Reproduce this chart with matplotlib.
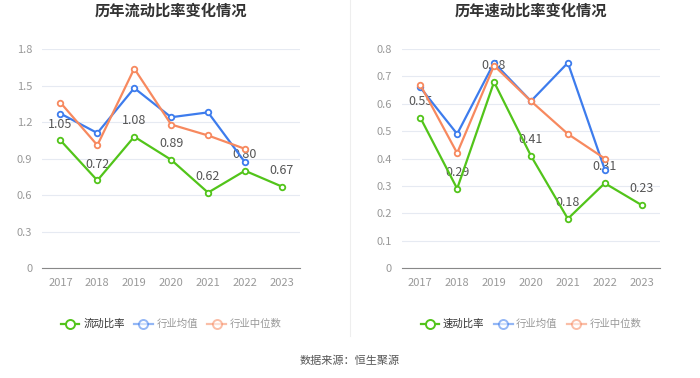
import matplotlib.pyplot as plt
import numpy as np

plt.rcParams['font.family'] = ['Noto Sans CJK SC', 'DejaVu Sans']

years = ["2017", "2018", "2019", "2020", "2021", "2022", "2023"]

current_ratio = [1.05, 0.72, 1.08, 0.89, 0.62, 0.80, 0.67]
current_avg = [1.27, 1.11, 1.48, 1.24, 1.28, 0.87]
current_median = [1.36, 1.01, 1.64, 1.18, 1.09, 0.98]

quick_ratio = [0.55, 0.29, 0.68, 0.41, 0.18, 0.31, 0.23]
quick_avg = [0.66, 0.49, 0.75, 0.61, 0.75, 0.36]
quick_median = [0.67, 0.42, 0.74, 0.61, 0.49, 0.40]

GREEN = "#52c41a"
BLUE = "#3d7ced"
ORANGE = "#f7895f"


def draw(ax, title, main, avg, med, main_name, yticks, ylim):
    x = np.arange(len(years))
    ax.plot(x[:len(avg)], avg, color=BLUE, lw=1.6, marker="o", ms=4,
            mfc="white", mew=1.3, zorder=3)
    ax.plot(x[:len(med)], med, color=ORANGE, lw=1.6, marker="o", ms=4,
            mfc="white", mew=1.3, zorder=3)
    ax.plot(x, main, color=GREEN, lw=1.6, marker="o", ms=4,
            mfc="white", mew=1.3, zorder=4)
    for xi, v in zip(x, main):
        ax.annotate("{:.2f}".format(v), (xi, v), xytext=(0, 7),
                    textcoords="offset points", ha="center", va="bottom",
                    fontsize=9, color="#555555", zorder=2)
    ax.set_xlim(-0.5, len(years) - 0.5)
    ax.set_ylim(*ylim)
    ax.set_yticks(yticks)
    ax.set_yticklabels([("0" if t == 0 else "{:g}".format(t)) for t in yticks])
    ax.set_xticks(x)
    ax.set_xticklabels(years)
    ax.tick_params(axis="both", length=0, labelsize=8, colors="#999999", pad=7)
    ax.grid(axis="y", color="#e6eaf2", lw=0.8)
    for s in ["top", "right", "left"]:
        ax.spines[s].set_visible(False)
    ax.spines["bottom"].set_color("#888888")
    ax.set_axisbelow(True)
    ax.set_title(title, fontsize=11, fontweight="bold", color="#333333", pad=24)

    h1, = ax.plot([], [], color=GREEN, lw=1.6, marker="o", ms=6.5, mfc="white", mew=1.4)
    h2, = ax.plot([], [], color=BLUE, lw=1.6, marker="o", ms=6.5, mfc="white", mew=1.4, alpha=0.55)
    h3, = ax.plot([], [], color=ORANGE, lw=1.6, marker="o", ms=6.5, mfc="white", mew=1.4, alpha=0.55)
    leg = ax.legend([h1, h2, h3], [main_name, "行业均值", "行业中位数"],
                    loc="upper center", bbox_to_anchor=(0.5, -0.19), ncol=3,
                    frameon=False, fontsize=7.5, handlelength=1.8,
                    columnspacing=0.9, handletextpad=0.35)
    cols = ["#333333", "#999999", "#999999"]
    for t, c in zip(leg.get_texts(), cols):
        t.set_color(c)


fig = plt.figure(figsize=(7, 3.78), dpi=100)
ax1 = fig.add_axes([0.06, 0.291, 0.369, 0.579])
ax2 = fig.add_axes([0.574, 0.291, 0.369, 0.579])

draw(ax1, "历年流动比率变化情况", current_ratio, current_avg, current_median,
     "流动比率", [0, 0.3, 0.6, 0.9, 1.2, 1.5, 1.8], (0, 1.8))
draw(ax2, "历年速动比率变化情况", quick_ratio, quick_avg, quick_median,
     "速动比率", [0, 0.1, 0.2, 0.3, 0.4, 0.5, 0.6, 0.7, 0.8], (0, 0.8))

fig.add_artist(plt.Line2D([0.5, 0.5], [0.11, 1.0], color="#eeeeee", lw=0.8))
fig.text(0.5, 0.045, "数据来源：恒生聚源", ha="center", va="center",
         fontsize=8, color="#555555")

fig.savefig("out.png", dpi=100)
